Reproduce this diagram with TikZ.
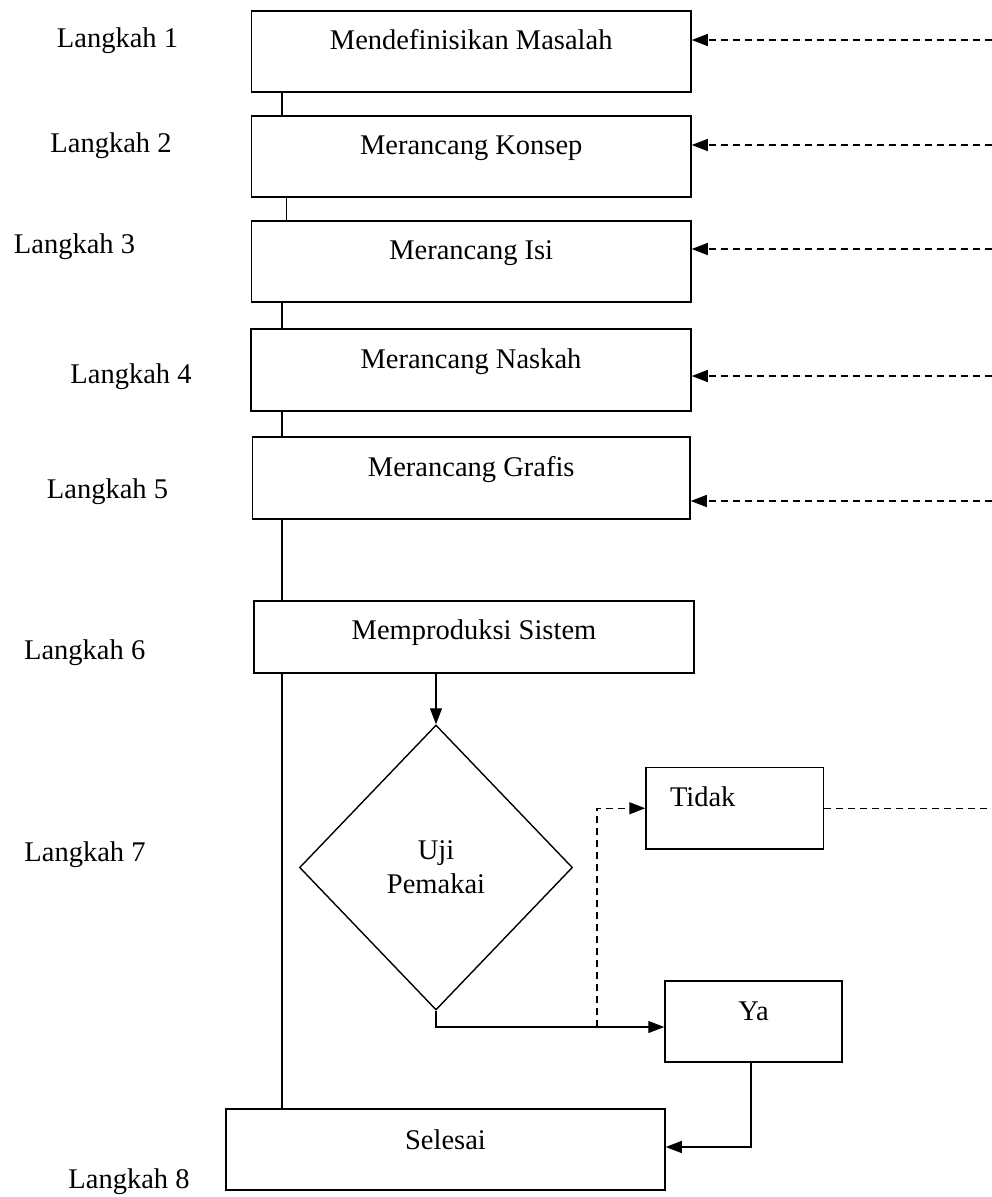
\documentclass[tikz,border=0pt]{standalone}
\usepackage{fontspec}
\setmainfont{Liberation Serif}
\usetikzlibrary{arrows.meta,shapes.geometric}
\begin{document}
\begin{tikzpicture}[x=1bp,y=-1bp,
  every node/.style={font=\fontsize{28.5bp}{34bp}\selectfont},
  stepbox/.style={draw,line width=1.5bp,rectangle,inner sep=0pt,fill=white},
  upper/.style={text height=20bp,text depth=24bp},
  mid/.style={text height=20bp,text depth=20bp},
  lab/.style={anchor=base,inner sep=0pt},
  conn/.style={line width=1.2bp},
  arr/.style={line width=1.2bp,-{Triangle[length=16bp,width=12bp]}},
  darr/.style={line width=1.3bp,dash pattern=on 7bp off 5bp,-{Triangle[length=16bp,width=12bp]}},
  dline/.style={line width=1.3bp,dash pattern=on 7bp off 5bp}]
\useasboundingbox (0,0) rectangle (992,1197);

% main boxes
\node[stepbox,upper,minimum width=439.5bp,minimum height=81bp] (b1) at (471.25,51.5) {Mendefinisikan Masalah};
\node[stepbox,upper,minimum width=439.5bp,minimum height=81bp] (b2) at (471.25,156.5) {Merancang Konsep};
\node[stepbox,upper,minimum width=439.5bp,minimum height=81bp] (b3) at (471.25,261.5) {Merancang Isi};
\node[stepbox,upper,minimum width=440bp,minimum height=82bp] (b4) at (471,370) {Merancang Naskah};
\node[stepbox,upper,minimum width=437.5bp,minimum height=82bp] (b5) at (471.25,478) {Merancang Grafis};
\node[stepbox,text height=20bp,text depth=15.2bp,minimum width=440bp,minimum height=72bp] (b6) at (474,637) {Memproduksi Sistem};
\node[draw,line width=1.4bp,shape=diamond,inner sep=0pt,minimum width=273bp,minimum height=285bp,align=center] (dia) at (436,867.5) {Uji\\Pemakai};
\node[stepbox,upper,minimum width=177.5bp,minimum height=81.5bp,inner xsep=24bp,text width=129.5bp,align=left] (tidak) at (734.75,808.25) {Tidak};
\node[stepbox,text height=20bp,text depth=23bp,minimum width=177bp,minimum height=81bp] (ya) at (753.5,1021.5) {Ya};
\node[stepbox,mid,minimum width=439bp,minimum height=81bp] (sel) at (445.5,1149.5) {Selesai};

% step labels
\node[lab] (l1) at (117.5,47) {Langkah 1};
\node[lab] (l2) at (111,152) {Langkah 2};
\node[lab] (l3) at (74.5,253.5) {Langkah 3};
\node[lab] (l4) at (131,383.5) {Langkah 4};
\node[lab] (l5) at (107.5,498.5) {Langkah 5};
\node[lab] (l6) at (84.7,659) {Langkah 6};
\node[lab] (l7) at (85,861.5) {Langkah 7};
\node[lab] (l8) at (129,1188.5) {Langkah 8};

% helper coordinates
\coordinate (lx) at (282,0);
\coordinate (lx2) at (286.5,0);
\coordinate (edge) at (992,0);
\coordinate (r1) at (992,40);
\coordinate (r2) at (992,145);
\coordinate (r3) at (992,249);
\coordinate (r4) at (992,376);
\coordinate (r5) at (992,501);
\coordinate (split) at (597,1027);

% vertical spine
\draw[conn] (b1.south -| lx) -- (b2.north -| lx);
\draw[conn] (b2.south -| lx2) -- (b3.north -| lx2);
\draw[conn] (b3.south -| lx) -- (b4.north -| lx);
\draw[conn] (b4.south -| lx) -- (b5.north -| lx);
\draw[conn] (b5.south -| lx) -- (b6.north -| lx);
\draw[conn] (b6.south -| lx) -- (sel.north -| lx);

% feedback dashed arrows
\draw[darr] (r1) -- (r1 -| b1.east);
\draw[darr] (r2) -- (r2 -| b2.east);
\draw[darr] (r3) -- (r3 -| b3.east);
\draw[darr] (r4) -- (r4 -| b4.east);
\draw[darr] (r5) -- (r5 -| b5.east);
\draw[dline] (tidak.east) -- (tidak.east -| edge);

% decision flow
\draw[arr] (b6.south -| dia.north) -- (dia.north);
\draw[arr] (dia.south) |- ([yshift=-5.5bp]ya.west);
\draw[darr] (split) |- (tidak.west);
\draw[arr] ([xshift=-2.5bp]ya.south) |- ([yshift=2.5bp]sel.east);
\end{tikzpicture}
\end{document}
